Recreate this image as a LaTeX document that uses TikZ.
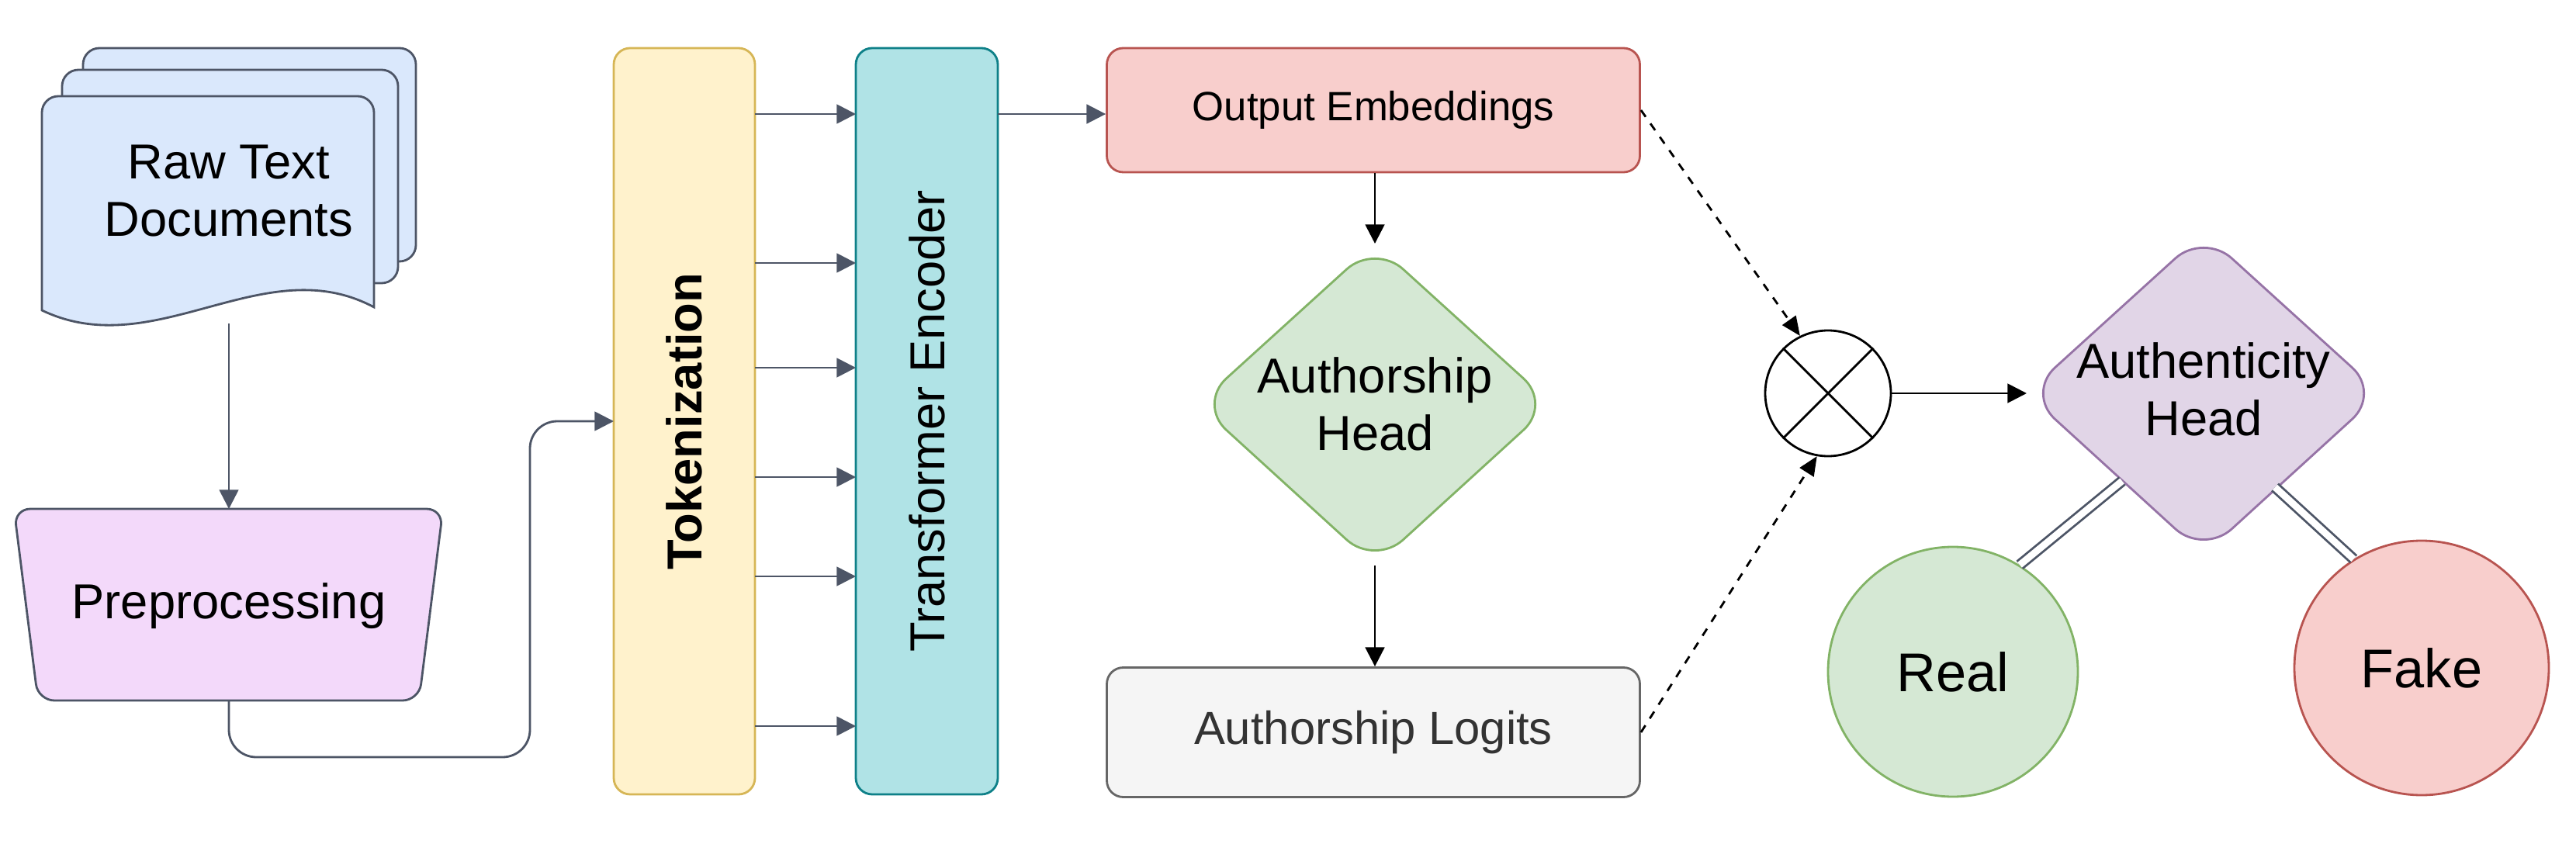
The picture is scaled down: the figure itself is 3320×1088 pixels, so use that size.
\documentclass[tikz,border=0pt]{standalone}
\usepackage{fontspec}
\setmainfont{Liberation Sans}
\usetikzlibrary{arrows.meta,calc}
\definecolor{lgray}{HTML}{4D5566}
\begin{document}
\begin{tikzpicture}[x=0.01cm,y=-0.01cm,
  ln/.style={line width=0.8pt},
  arr/.style={ln,draw=lgray,-{Triangle[length=7pt,width=7pt]}},
  barr/.style={ln,draw=black,-{Triangle[length=7pt,width=7pt]}},
  darr/.style={ln,draw=black,dashed,dash pattern=on 3pt off 3pt,-{Triangle[length=7pt,width=6pt]}},
  txt/.style={font=\fontsize{18}{21}\selectfont,align=center,inner sep=0},
  box/.style={rounded corners=6pt,ln,inner sep=0}]
\useasboundingbox (0,0) rectangle (3320,1088);
% documents
\draw[ln,draw=lgray,fill={rgb,255:red,218;green,232;blue,252},rounded corners=6pt] (107,337) -- (107,62) -- (536,62) -- (536,337) -- cycle;
\draw[ln,draw=lgray,fill={rgb,255:red,218;green,232;blue,252},rounded corners=6pt] (80,365) -- (80,90) -- (513,90) -- (513,365) -- cycle;
\draw[ln,draw=lgray,fill={rgb,255:red,218;green,232;blue,252}] (54,400) [rounded corners=6pt] -- (54,124) -- (482,124) [sharp corners] -- (482,396) .. controls (340,320) and (200,470) .. (54,400) -- cycle;
\node[txt] (doc) at (295,246) {Raw Text\\Documents};
\coordinate (docb) at (295,417);
% preprocessing
\draw[ln,draw=lgray,fill={rgb,255:red,243;green,217;blue,250},rounded corners=6pt] (18,656) -- (571,656) -- (540,903) -- (49,903) -- cycle;
\node[txt] (pre) at (295,781) {Preprocessing};
\coordinate (pret) at (295,656);
\coordinate (preb) at (295,903);
\draw[arr] (docb) -- (pret);
% tokenization / encoder
\path[box,draw={rgb,255:red,214;green,182;blue,86},fill={rgb,255:red,255;green,242;blue,204}] (791,62) rectangle (973,1024);
\coordinate (tokw) at (791,543);
\coordinate (toke) at (973,543);
\node[txt,font=\fontsize{18}{21}\selectfont\bfseries,rotate=90] (toklab) at (882,543) {Tokenization};
\path[box,draw={rgb,255:red,14;green,128;blue,136},fill={rgb,255:red,176;green,227;blue,230}] (1103,62) rectangle (1286,1024);
\coordinate (encw) at (1103,543);
\coordinate (ence) at (1286,147);
\node[txt,rotate=90] (enclab) at (1195,543) {Transformer Encoder};
\draw[arr,rounded corners=10pt] (preb) -- (295,976) -- (683,976) -- (683,543) -- (tokw);
\foreach \yy in {147,339,474,615,743,936}{
  \draw[arr] (toke |- 0,\yy) -- (encw |- 0,\yy);
}
% output embeddings
\node[box,draw={rgb,255:red,184;green,84;blue,80},fill={rgb,255:red,248;green,206;blue,204},minimum width=687*0.01cm,minimum height=160*0.01cm,font=\fontsize{15}{18}\selectfont] (out) at (1770,142) {Output Embeddings};
\draw[arr] (ence) -- (out.west |- ence);
% authorship head
\draw[ln,draw={rgb,255:red,130;green,179;blue,102},fill={rgb,255:red,213;green,232;blue,212},rounded corners=14pt] (1772,314) -- (2000,521) -- (1772,729) -- (1544,521) -- cycle;
\node[txt] (ah) at (1772,521) {Authorship\\Head};
\coordinate (aht) at (1772,314);
\coordinate (ahb) at (1772,729);
\draw[barr] (out.south -| aht) -- (aht);
% logits
\node[box,draw={rgb,255:red,102;green,102;blue,102},fill={rgb,255:red,245;green,245;blue,245},minimum width=687*0.01cm,minimum height=167*0.01cm,font=\fontsize{17}{20}\selectfont,text={rgb,255:red,51;green,51;blue,51}] (log) at (1770,944) {Authorship Logits};
\draw[barr] (ahb) -- (log.north -| ahb);
% otimes
\node[circle,draw=black,ln,minimum size=162*0.01cm,inner sep=0] (x) at (2356,507) {};
\draw[ln] (x.45) -- (x.225) (x.135) -- (x.315);
\draw[darr] (out.east) -- (x.116);
\draw[darr] (log.east) -- (x.-100);
% authenticity head
\draw[ln,draw={rgb,255:red,150;green,115;blue,166},fill={rgb,255:red,225;green,213;blue,231},rounded corners=14pt] (2840,300) -- (3068,507) -- (2840,715) -- (2612,507) -- cycle;
\node[txt] (auh) at (2840,502) {Authenticity\\Head};
\coordinate (auhw) at (2612,507);
\draw[barr] (x.east) -- (auhw);
% real / fake
\node[circle,ln,draw={rgb,255:red,130;green,179;blue,102},fill={rgb,255:red,213;green,232;blue,212},minimum size=322*0.01cm,font=\fontsize{20}{24}\selectfont] (real) at (2517,866) {Real};
\node[circle,ln,draw={rgb,255:red,184;green,84;blue,80},fill={rgb,255:red,248;green,206;blue,204},minimum size=328*0.01cm,font=\fontsize{20}{24}\selectfont] (fake) at (3121,861) {Fake};
\coordinate (rl) at (2735,620);
\coordinate (fl) at (2932,628);
\draw[ln,double=white,double distance=2.5pt,draw=lgray] (rl) -- (real.58);
\draw[ln,double=white,double distance=2.5pt,draw=lgray] (fl) -- (fake.122);
\end{tikzpicture}
\end{document}
